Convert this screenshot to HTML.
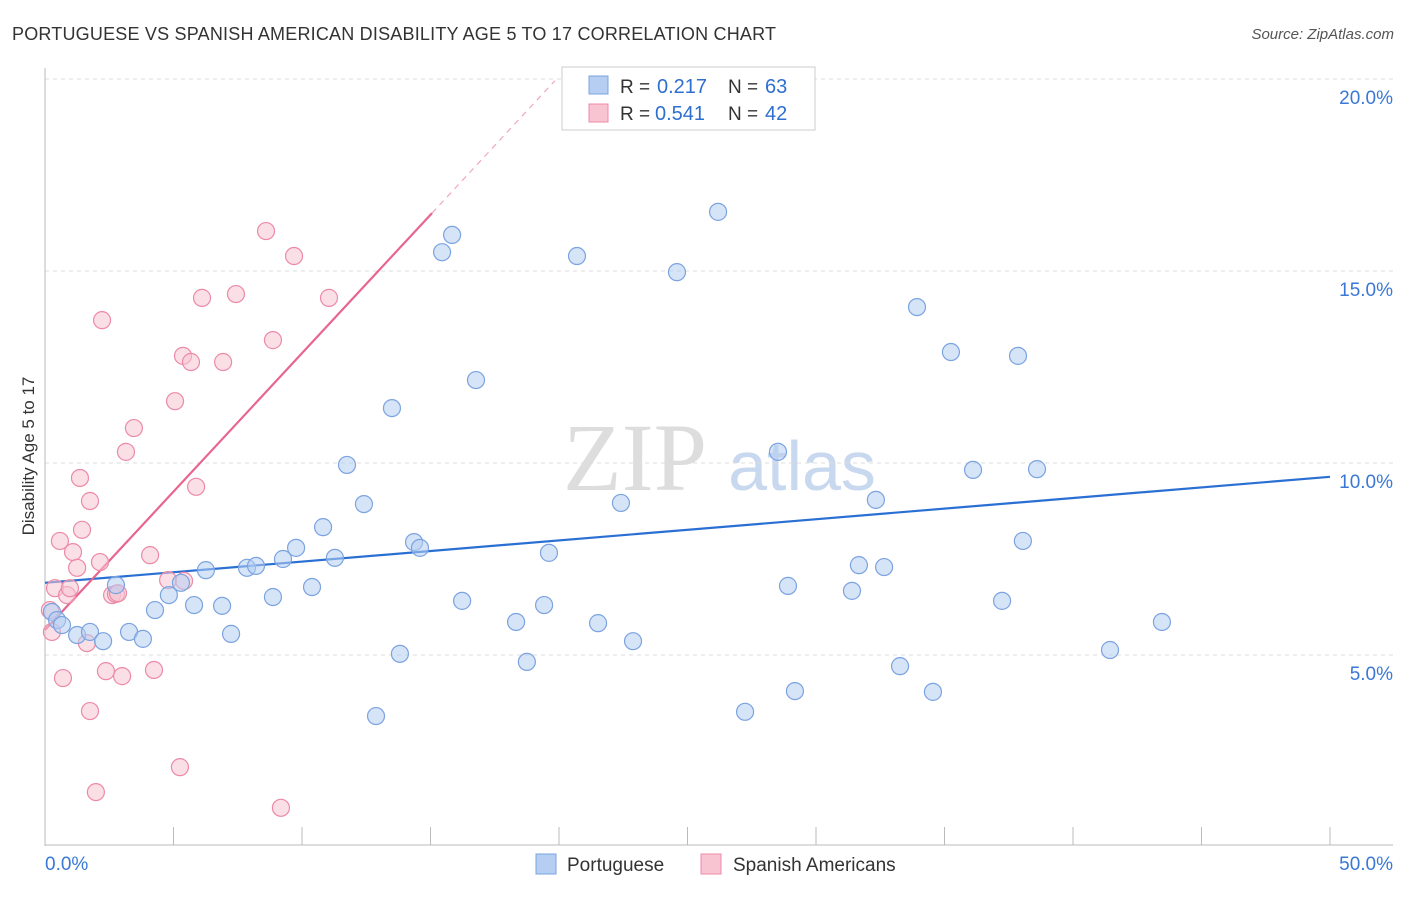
<!DOCTYPE html>
<html><head><meta charset="utf-8"><style>
body{margin:0;background:#fff;font-family:"Liberation Sans",sans-serif}
svg text{font-family:"Liberation Sans",sans-serif}
</style></head><body>
<svg id="c" width="1406" height="892" xmlns="http://www.w3.org/2000/svg">
<text x="12" y="40" font-size="18" fill="#333" textLength="764">PORTUGUESE VS SPANISH AMERICAN DISABILITY AGE 5 TO 17 CORRELATION CHART</text>
<text x="1394" y="39" font-size="15" fill="#555" font-style="italic" text-anchor="end">Source: ZipAtlas.com</text>
<text x="34" y="456" font-size="17" fill="#333" text-anchor="middle" transform="rotate(-90 34 456)">Disability Age 5 to 17</text>
<g><text x="635" y="490" font-size="96" fill="#ddd" font-family="Liberation Serif" text-anchor="middle" style="font-family:'Liberation Serif',serif">ZIP</text><text x="802" y="490" font-size="70" fill="#c8d8ef" text-anchor="middle">atlas</text></g>
<g id="grid"></g><g id="axes"></g><g id="lines"></g><g id="pts"></g>
<g>
<rect x="562" y="67" width="253" height="63" fill="#fff" stroke="#ccc"/>
<rect x="589" y="76" width="19" height="18" fill="#b5cef2" stroke="#7ba3e0"/>
<rect x="589" y="104" width="19" height="18" fill="#f8c4d2" stroke="#ec8aa8"/>
<text x="620" y="93" font-size="19" fill="#333">R =</text><text x="657" y="93" font-size="20" fill="#2f6fd0">0.217</text>
<text x="728" y="93" font-size="19" fill="#333">N =</text><text x="765" y="93" font-size="20" fill="#2f6fd0">63</text>
<text x="620" y="120" font-size="19" fill="#333">R =</text><text x="655" y="120" font-size="20" fill="#2f6fd0">0.541</text>
<text x="728" y="120" font-size="19" fill="#333">N =</text><text x="765" y="120" font-size="20" fill="#2f6fd0">42</text>
</g>
<g>
<rect x="536" y="854" width="20" height="20" fill="#b5cef2" stroke="#7ba3e0"/>
<text x="567" y="871" font-size="19" fill="#333">Portuguese</text>
<rect x="701" y="854" width="20" height="20" fill="#f8c4d2" stroke="#ec8aa8"/>
<text x="733" y="871" font-size="19" fill="#333">Spanish Americans</text>
</g>
</svg>
<script>
const yTicks=[5,10,15,20];
const yTickLabels=["5.0%","10.0%","15.0%","20.0%"];
const xTicks=[0,5,10,15,20,25,30,35,40,45,50];
const blueX=[0.27,0.47,0.66,1.25,1.75,2.26,2.76,3.27,3.81,4.28,4.82,5.29,5.80,6.26,6.89,7.24,7.86,8.21,8.87,9.26,9.77,10.39,10.82,11.28,11.75,12.41,12.88,13.50,13.81,14.36,14.59,15.45,15.84,16.23,16.77,18.33,18.75,19.42,19.61,20.70,21.52,22.41,22.88,24.59,26.19,27.24,28.52,28.91,29.18,31.40,31.67,32.33,32.65,33.27,33.93,34.55,35.25,36.11,37.24,37.86,38.05,38.60,41.44,43.46];
const blueY=[6.12,5.91,5.78,5.52,5.60,5.36,6.82,5.60,5.42,6.17,6.56,6.88,6.30,7.21,6.28,5.55,7.27,7.32,6.51,7.50,7.79,6.77,8.33,7.53,9.95,8.93,3.41,11.43,5.03,7.94,7.79,15.49,15.94,6.41,12.16,5.86,4.82,6.30,7.66,15.39,5.83,8.96,5.36,14.97,16.54,3.52,10.29,6.80,4.06,6.67,7.34,9.04,7.29,4.71,14.06,4.04,12.89,9.82,6.41,12.79,7.97,9.84,5.13,5.86];
const pinkX=[0.19,0.27,0.39,0.58,0.70,0.86,0.97,1.09,1.25,1.36,1.44,1.63,1.75,1.75,1.98,2.14,2.22,2.37,2.61,2.76,2.84,3.00,3.15,3.46,4.09,4.24,4.79,5.06,5.25,5.37,5.41,5.68,5.88,6.11,6.93,7.43,8.60,8.87,9.18,9.69,11.05];
const pinkY=[6.17,5.60,6.74,7.97,4.40,6.56,6.74,7.68,7.27,9.61,8.26,5.31,9.01,3.54,1.43,7.42,13.72,4.58,6.56,6.59,6.61,4.45,10.29,10.91,7.60,4.61,6.95,11.61,2.08,12.79,6.93,12.63,9.38,14.30,12.63,14.40,16.04,13.20,1.02,15.39,14.30];
const blueTrend=[6.88,0.0552];
const pinkTrend=[5.65,0.721];
const NS="http://www.w3.org/2000/svg";
const sx=v=>45+v*25.7, sy=v=>847-v*38.4;
function mk(p,t,a){const e=document.createElementNS(NS,t);for(const k in a)e.setAttribute(k,a[k]);document.getElementById(p).appendChild(e);return e;}
yTicks.forEach((t,i)=>{
 const g=mk('grid','line',{x1:45,x2:1393,y1:sy(t),y2:sy(t),stroke:'#ddd','stroke-dasharray':'4,4'});
 
 
 const tx=mk('axes','text',{x:1393,y:sy(t)+25,'font-size':19,fill:'#3a78d6','text-anchor':'end'});
 tx.textContent=yTickLabels[i];
 
 
});
const ya=mk('axes','line',{x1:45,x2:45,y1:68,y2:846,stroke:'#bbb'});


const xa=mk('axes','line',{x1:45,x2:1393,y1:845,y2:845,stroke:'#bbb'});


xTicks.forEach(t=>{const l=mk('axes','line',{x1:sx(t),x2:sx(t),y1:827,y2:845,stroke:'#bbb'});
 
 });
const x0=mk('axes','text',{x:45,y:870,'font-size':19,fill:'#3a78d6'});x0.textContent='0.0%';


const x1=mk('axes','text',{x:1393,y:870,'font-size':19,fill:'#3a78d6','text-anchor':'end'});x1.textContent='50.0%';


function pt(x,y,f,s,n){const c=mk('pts','circle',{cx:sx(x),cy:sy(y),r:8.5,fill:f,'fill-opacity':0.55,stroke:s,'stroke-width':1.2});
 
 }
pinkX.forEach((x,i)=>pt(x,pinkY[i],'#f8c4d2','#ec8aa8','spanish-american-point'));
blueX.forEach((x,i)=>pt(x,blueY[i],'#b5cef2','#7ba3e0','portuguese-point'));
const bl=mk('lines','line',{x1:sx(0),y1:sy(blueTrend[0]),x2:sx(50),y2:sy(blueTrend[0]+blueTrend[1]*50),stroke:'#2a6fd4','stroke-width':2.2});


const pe=15.06, pd=19.84;
const pl=mk('lines','line',{x1:sx(0),y1:sy(pinkTrend[0]),x2:sx(pe),y2:sy(pinkTrend[0]+pinkTrend[1]*pe),stroke:'#e8658f','stroke-width':2.2});


const pdl=mk('lines','line',{x1:sx(pe),y1:sy(pinkTrend[0]+pinkTrend[1]*pe),x2:sx(pd),y2:sy(pinkTrend[0]+pinkTrend[1]*pd),stroke:'#f0a8be','stroke-width':1.2,'stroke-dasharray':'6,5'});


</script>
</body></html>
